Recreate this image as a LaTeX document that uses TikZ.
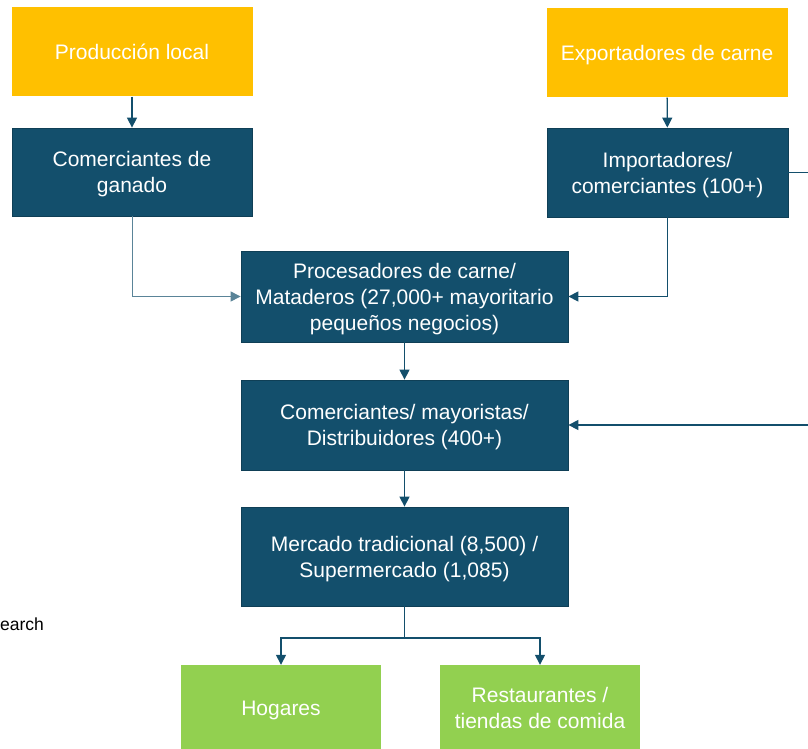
\documentclass[tikz,border=0pt]{standalone}
\usepackage{fontspec}
\setmainfont{Liberation Sans}
\usetikzlibrary{arrows.meta}
\definecolor{dblue}{HTML}{134F6C}
\definecolor{ylw}{HTML}{FFC000}
\definecolor{grn}{HTML}{92D050}
\begin{document}
\begin{tikzpicture}[x=1pt,y=-1pt,
  boxbase/.style={rectangle, inner sep=0pt, align=center, text=white, text depth=0pt,
    font=\fontsize{21}{26}\selectfont},
  ybox/.style={boxbase, fill=ylw, minimum width=241pt, minimum height=89pt},
  bbox/.style={boxbase, fill=dblue, draw=dblue!80!black, line width=0.8pt},
  gbox/.style={boxbase, fill=grn, minimum width=200pt, minimum height=86pt},
  conn/.style={draw=dblue, line width=1.4pt, -{Triangle[length=10pt,width=10pt]}},
  plainconn/.style={draw=dblue, line width=1.4pt}]
\useasboundingbox (0,0) rectangle (808,749);
\node[ybox] (prod) at (132,52) {Producción local};
\node[ybox] (exp) at (667,53) {Exportadores de carne};
\node[bbox, minimum width=240pt, minimum height=88pt] (gan) at (132,172) {Comerciantes de\\ganado};
\node[bbox, minimum width=241pt, minimum height=89pt] (imp) at (667.5,172.5) {Importadores/\\comerciantes (100+)};
\node[bbox, minimum width=327pt, minimum height=91pt] (proc) at (404.5,296.5) {Procesadores de carne/\\Mataderos (27,000+ mayoritario\\pequeños negocios)};
\node[bbox, minimum width=327pt, minimum height=90pt] (may) at (404.5,425) {Comerciantes/ mayoristas/\\Distribuidores (400+)};
\node[bbox, minimum width=327pt, minimum height=99pt] (merc) at (404.5,556.5) {Mercado tradicional (8,500) /\\Supermercado (1,085)};
\node[gbox] (hog) at (281,708) {Hogares};
\node[gbox] (rest) at (540,708) {Restaurantes /\\tiendas de comida};
\node[anchor=west, inner sep=0pt, font=\fontsize{17.5}{20}\selectfont] (src) at (0,624) {earch};
\coordinate (impR) at (808,172.5);
\coordinate (mayR) at (808,425);
\coordinate (split) at (404.5,638);
\draw[conn] (prod) -- (gan);
\draw[conn] (exp) -- (imp);
\draw[conn] (proc) -- (may);
\draw[conn] (may) -- (merc);
\draw[conn, line width=1pt, draw=dblue!70] (gan.south) |- (proc.west);
\draw[conn] (imp.south) |- (proc.east);
\draw[plainconn] (imp.east) -- (impR);
\draw[conn] (mayR) -- (may.east);
\draw[plainconn] (merc.south) -- (split);
\draw[conn] (split) -| (hog.north);
\draw[conn] (split) -| (rest.north);
\end{tikzpicture}
\end{document}
